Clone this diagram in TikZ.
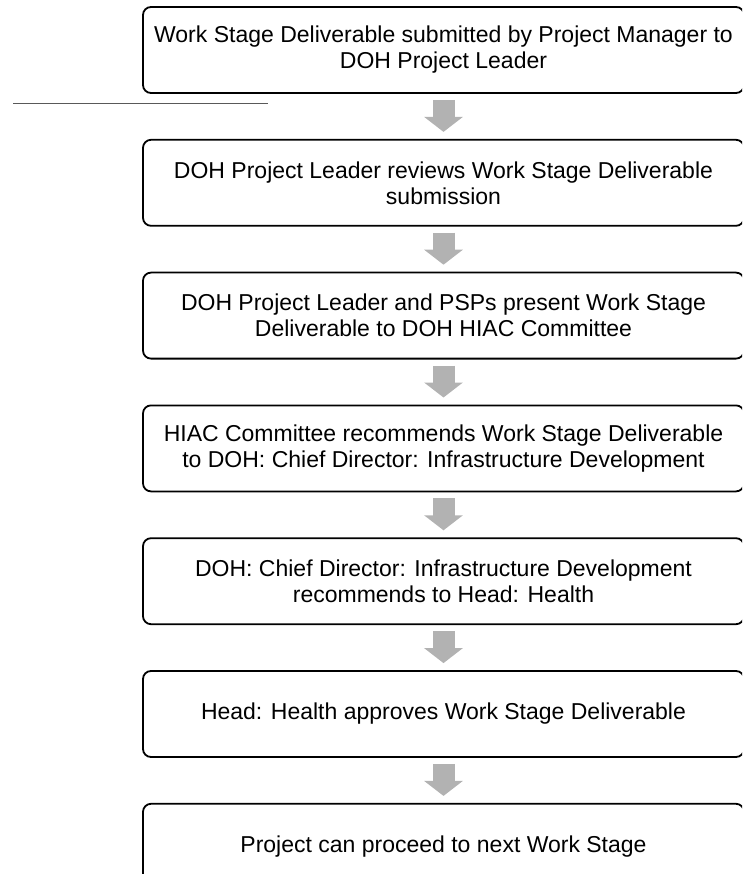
\documentclass[tikz,border=0pt]{standalone}
\usepackage{fontspec}
\setmainfont{Liberation Sans}
\usepackage{tikz}
\usetikzlibrary{positioning,arrows.meta}

\begin{document}
\begin{tikzpicture}[x=1pt,y=1pt,
  stage/.style={draw, line width=1.8pt, rounded corners=8pt, minimum width=601pt,
    minimum height=86pt, align=center, inner sep=0pt,
    font=\fontsize{23}{26}\selectfont},
  flow/.style={-{Triangle[width=38pt,length=15pt]}, line width=22pt, draw=gray!60},
  node distance=45pt]
\clip (0,0) rectangle (742,-874);
\node[stage] (S0) at (443.5,-50) {Work Stage Deliverable submitted by Project Manager to\\DOH Project Leader};
\node[stage] (S1) [below=of S0] {DOH Project Leader reviews Work Stage Deliverable\\submission};
\node[stage] (S2) [below=of S1] {DOH Project Leader and PSPs present Work Stage\\Deliverable to DOH HIAC Committee};
\node[stage] (S3) [below=of S2] {HIAC Committee recommends Work Stage Deliverable\\to DOH: Chief Director: Infrastructure Development};
\node[stage] (S4) [below=of S3] {DOH: Chief Director: Infrastructure Development\\recommends to Head: Health};
\node[stage] (S5) [below=of S4] {Head: Health approves Work Stage Deliverable};
\node[stage] (S6) [below=of S5] {Project can proceed to next Work Stage};

\draw[flow] ([yshift=-6pt]S0.south) to ([yshift=7pt]S1.north);
\draw[flow] ([yshift=-6pt]S1.south) to ([yshift=7pt]S2.north);
\draw[flow] ([yshift=-6pt]S2.south) to ([yshift=7pt]S3.north);
\draw[flow] ([yshift=-6pt]S3.south) to ([yshift=7pt]S4.north);
\draw[flow] ([yshift=-6pt]S4.south) to ([yshift=7pt]S5.north);
\draw[flow] ([yshift=-6pt]S5.south) to ([yshift=7pt]S6.north);

\coordinate (rule0) at (13,-103);
\coordinate (rule1) at (268,-103);
\draw[line width=0.8pt, gray!70!black] (rule0) -- (rule1);
\end{tikzpicture}
\end{document}
